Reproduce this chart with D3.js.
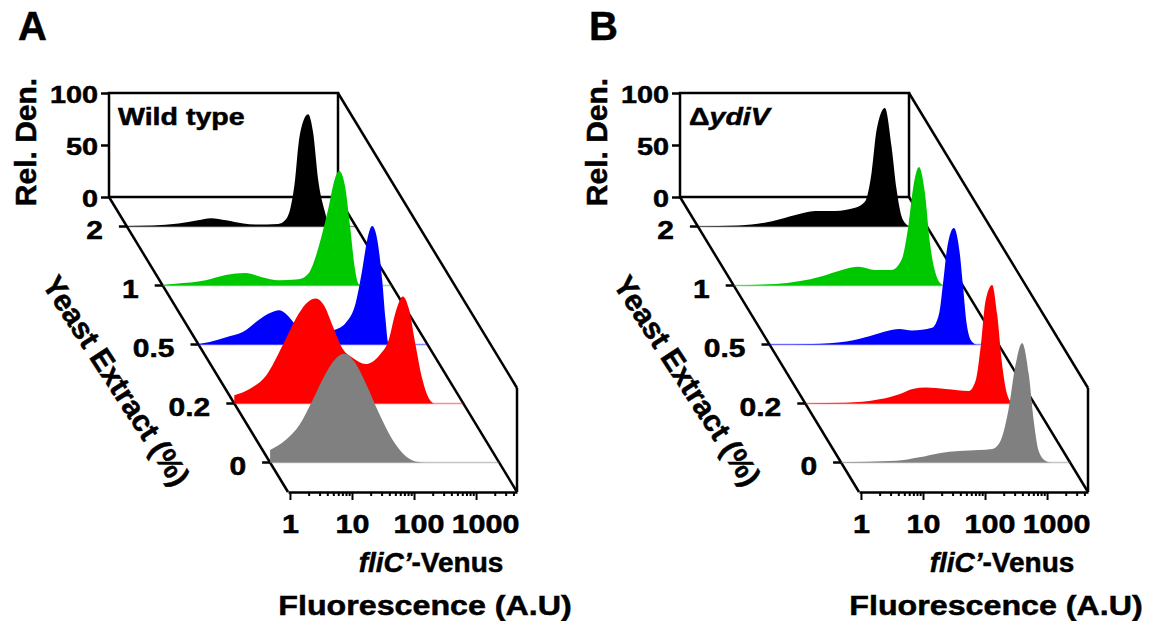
<!DOCTYPE html>
<html>
<head>
<meta charset="utf-8">
<script src="https://cdn.jsdelivr.net/npm/d3@7"></script>
<style>
body { margin: 0; background: #fff; }
svg text { font-family: 'Liberation Sans', Arial, sans-serif; font-weight: bold; fill: #000; stroke: #000; stroke-width: 0.5px; }
</style>
</head>
<body>
<svg id="chart" width="1151" height="621"></svg>
<script>
'use strict';

// yeast extract (%) levels, back to front
var depthLabels = ['2', '1', '0.5', '0.2', '0'];
var xTickValues = [1, 10, 100, 1000];
var yTickValues = [0, 50, 100];

// [fluorescence (A.U), relative density]
// wild type
var wt2 = [[0.93,0.5],[2.4,1],[6.3,3],[13,6],[21,8],[37,6],[70,3],[110,2],[257,2.5],[330,6],[400,17],[480,46],[540,78],[645,101],[775,108],[930,91],[1120,46],[1450,14],[1620,4],[1950,0]];
var wt1 = [[0.93,0.5],[1.5,1.6],[4.6,5],[9.6,10],[20,12],[37,8],[69,5],[144,6],[208,11.5],[266,26],[340,48],[435,74],[557,103],[653,110],[807,96],[971,58],[1167,16],[1318,2],[1480,0]];
var wt05 = [[0.93,0.5],[1.41,2.5],[2.6,7],[4.8,12],[8.9,24],[12.9,30],[18.7,33],[25.4,28],[34.6,19],[57,13],[99,12],[143,14],[220,21],[318,40],[406,72],[488,101],[587,114],[707,101],[850,62],[963,24],[1061,2],[1172,0]];
var wt02 = [[0.93,8],[1.64,14],[3.04,27],[5.6,56],[9.2,82],[13.3,96],[19.3,101],[26.2,94],[35.6,75],[51.6,53],[75,44],[122,38],[200,46],[290,62],[371,88],[486,103],[607,91],[778,56],[993,24],[1271,5],[1530,0]];
var wt0 = [[0.93,12],[1.69,22],[2.76,36],[4.52,60],[7.41,86],[10.7,100],[14.6,104.5],[21.1,97],[32.5,76],[53.2,47],[86.9,22],[143,6],[206,1],[299,0]];

// delta ydiV
var yd2 = [[0.93,0.3],[4.26,1],[14.6,5],[34.6,11],[72.5,15],[152,15],[318,18],[460,24],[587,52],[707,93],[963,114],[1230,77],[1480,36],[1780,10],[2140,2],[2440,0]];
var yd1 = [[0.93,0.3],[4.4,1.4],[10.4,4],[24.6,9],[51.6,15],[95.6,18],[177,15],[327,15],[474,25],[607,57],[731,95],[902,114],[1125,89],[1354,41],[1729,9],[2213,0]];
var yd05 = [[0.93,0.3],[4.6,0.6],[16.1,3],[37.7,8],[78.9,13.5],[114,15],[185,13.5],[387,16],[501,29],[581,58],[673,91],[873,112],[1089,87],[1217,58],[1410,19],[1695,3],[2040,0]];
var yd02 = [[0.93,0.3],[4.2,0.7],[14.5,4],[30.4,9],[49.7,14],[81.6,15.4],[171,14],[404,12],[518,22],[623,54],[749,99],[957,114],[1151,86],[1384,37.5],[1666,9],[2004,1],[2384,0]];
var yd0 = [[0.93,0.3],[7.1,1.6],[16.9,5],[35.4,9],[74.1,11],[155,12],[254,13],[346,21],[471,53],[603,94],[769,115],[986,85],[1186,40],[1426,11],[1828,1.6],[2222,0]];

var wildType = [wt2, wt1, wt05, wt02, wt0];
var ydiV = [yd2, yd1, yd05, yd02, yd0];

var traceColors = ['#000000', '#00c800', '#0000ff', '#ff0000', '#808080'];

var W = 229, H = 104, D = 295, shear = 179 / 295;

var x = d3.scaleLog().domain([0.93, 4570]).range([0, W]);
var y = d3.scaleLinear().domain([0, 100]).range([0, -H]);
var z = d3.scalePoint().domain(depthLabels).range([0, D]).padding(0.5);

var svg = d3.select('#chart');

function label(parent, tx, ty, size, sx, anchor, rot) {
	return parent.append('text')
		.attr('transform', 'translate(' + tx + ',' + ty + ')' + (rot ? ' rotate(' + rot + ')' : '') + ' scale(' + sx + ',1)')
		.attr('font-size', size)
		.attr('text-anchor', anchor);
}

function drawPanel(ox, oy, letter, series, nameFn) {
	var g = svg.append('g').attr('transform', 'translate(' + ox + ',' + oy + ')');
	var x0 = x.range()[0], x1 = x.range()[1];
	var yTop = y(100), zEnd = z.range()[1];

	// back wall
	g.append('rect')
		.attr('x', x0).attr('y', yTop)
		.attr('width', x1 - x0).attr('height', -yTop)
		.attr('fill', 'none').attr('stroke', '#000').attr('stroke-width', 2.5);

	// floor and right side
	var frame = [
		[[x0, 0], [x0 + zEnd * shear, zEnd]],
		[[x1, 0], [x1 + zEnd * shear, zEnd]],
		[[x1, yTop], [x1 + zEnd * shear, yTop + zEnd]],
		[[x1 + zEnd * shear, yTop + zEnd], [x1 + zEnd * shear, zEnd]]
	];
	g.selectAll('line.frame')
		.data(frame)
		.enter()
		.append('line')
			.classed('frame', true)
			.attr('x1', function(d) { return d[0][0]; })
			.attr('y1', function(d) { return d[0][1]; })
			.attr('x2', function(d) { return d[1][0]; })
			.attr('y2', function(d) { return d[1][1]; })
			.attr('stroke', '#000')
			.attr('stroke-width', 2.5);

	var area = d3.area()
		.x(function(d) { return x(d[0]); })
		.y0(0)
		.y1(function(d) { return y(d[1]); })
		.curve(d3.curveMonotoneX);

	series.forEach(function(data, i) {
		var dz = z(depthLabels[i]);
		var tg = g.append('g').attr('transform', 'translate(' + dz * shear + ',' + dz + ')');
		tg.append('line')
			.attr('x1', x0).attr('x2', x1).attr('y1', 0).attr('y2', 0)
			.attr('stroke', traceColors[i]).attr('stroke-width', 1.5).attr('opacity', 0.45);
		tg.append('path')
			.datum(data)
			.attr('d', area)
			.attr('fill', traceColors[i]);
	});

	// depth ticks and labels
	depthLabels.forEach(function(lab) {
		var dz = z(lab);
		g.append('line')
			.attr('x1', dz * shear - 8).attr('x2', dz * shear)
			.attr('y1', dz).attr('y2', dz)
			.attr('stroke', '#000').attr('stroke-width', 2.5);
		label(g, dz * shear - 24, dz + 12, 25, 1.2, 'end').text(lab);
	});

	// y axis on the back wall
	var ya = g.append('g')
		.call(d3.axisLeft(y).tickValues(yTickValues).tickSize(8).tickSizeOuter(0));
	ya.attr('font-family', null).attr('font-size', null);
	ya.select('.domain').remove();
	ya.selectAll('.tick line').attr('stroke-width', 2.5);
	ya.selectAll('.tick text')
		.attr('x', null).attr('dy', null)
		.attr('font-size', 24)
		.attr('transform', 'translate(-11,9) scale(1.2,1)');

	// x axis at the front
	var xa = g.append('g')
		.attr('transform', 'translate(' + zEnd * shear + ',' + zEnd + ')')
		.call(d3.axisBottom(x)
			.tickValues(x.ticks())
			.tickSizeOuter(0)
			.tickFormat(function(d) { return xTickValues.indexOf(d) >= 0 ? d : ''; }));
	xa.attr('font-family', null).attr('font-size', null);
	xa.select('.domain').attr('stroke-width', 2.5);
	xa.selectAll('.tick line')
		.attr('stroke-width', 2)
		.attr('y2', function(d) { return xTickValues.indexOf(d) >= 0 ? 8 : 4; });
	// wider labels are nudged right, as in the source figure
	xa.selectAll('.tick text')
		.attr('y', null).attr('dy', null)
		.attr('font-size', 25)
		.attr('transform', function(d) {
			var n = String(d).length;
			return 'translate(' + Math.max(0, n - 2) * 4.5 + ',41) scale(1.22,1)';
		});

	// titles
	label(g, -91, -157, 40, 1, 'start').text(letter);
	label(g, -73, -55, 30, 1, 'middle', -90).text('Rel. Den.');
	nameFn(label(g, 9, -72, 24, 1.19, 'start'));
	label(g, -1.4, 189.4, 30, 1, 'middle', 57).text('Yeast Extract (%)');
	var t1 = label(g, 322, 375, 28, 1, 'middle');
	t1.append('tspan').attr('font-style', 'italic').text('fliC\u2019');
	t1.append('tspan').text('-Venus');
	label(g, 316, 418, 28, 1.15, 'middle').text('Fluorescence (A.U)');
}

drawPanel(109, 197, 'A', wildType, function(t) { t.text('Wild type'); });
drawPanel(680, 197, 'B', ydiV, function(t) {
	t.append('tspan').text('\u0394');
	t.append('tspan').attr('font-style', 'italic').text('ydiV');
});
</script>
</body>
</html>
